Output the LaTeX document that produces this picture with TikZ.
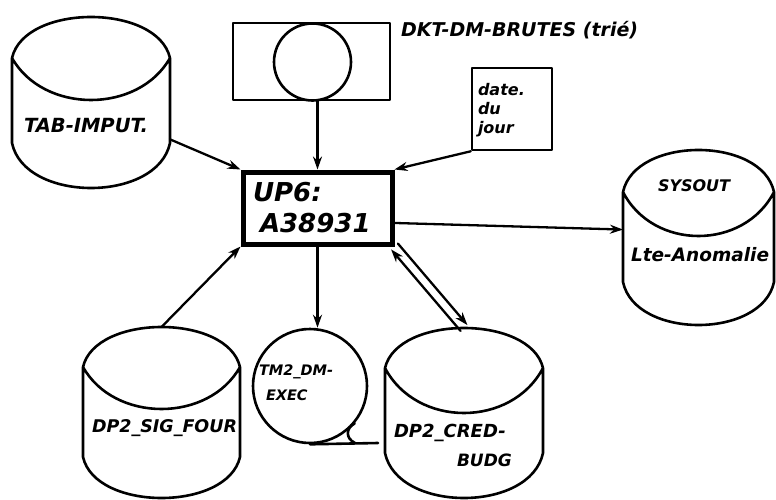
\documentclass[tikz,border=0pt]{standalone}
\usepackage{fontspec}
\newfontfamily\handfont{DejaVu Sans}
\usetikzlibrary{arrows.meta,calc}
\tikzset{
  ln/.style={line width=2.6pt, line cap=round, line join=round},
  arr/.style={line width=2.3pt, line cap=round, -{Stealth[length=13pt,width=9pt]}},
  area/.style={draw=none, inner sep=0pt, outer sep=0pt, rectangle},
  hw/.style={inner sep=0pt, outer sep=0pt, anchor=west, font=\handfont\bfseries\itshape\fontsize{#1}{#1}\selectfont},
  hw/.default=17,
}
% L R T C B S D : left, right, top, lens corners, lens bottom, side bottom, base bottom
\newcommand\cylpath[7]{%
  \draw[ln] (#1,#4) .. controls ({#1+0.08*(#2-#1)},{#4+(#3-#4)/0.75}) and ({#2-0.08*(#2-#1)},{#4+(#3-#4)/0.75}) .. (#2,#4)
     .. controls ({#2-0.2*(#2-#1)},{#4+(#5-#4)/0.75}) and ({#1+0.2*(#2-#1)},{#4+(#5-#4)/0.75}) .. (#1,#4)
     -- (#1,#6) .. controls ({#1+0.08*(#2-#1)},{#6+(#7-#6)/0.75}) and ({#2-0.08*(#2-#1)},{#6+(#7-#6)/0.75}) .. (#2,#6) -- (#2,#4);
}
\begin{document}
\begin{tikzpicture}[x=1pt,y=-1pt]
\useasboundingbox[fill=white] (0,0) rectangle (776,500);

% ---- cylinders (areas + outlines)
\node[area, minimum width=158pt, minimum height=171pt] (tab) at (91,102.5) {};
\cylpath{12}{170}{17}{58}{100}{143}{188}
\node[area, minimum width=157pt, minimum height=171pt] (sig) at (161.5,412.5) {};
\cylpath{83}{240}{327}{367}{409}{457}{498}
\node[area, minimum width=158pt, minimum height=170pt] (cred) at (464,413) {};
\cylpath{385}{543}{328}{368}{413}{453}{498}
\node[area, minimum width=151pt, minimum height=175pt] (sys) at (698.5,237.5) {};
\cylpath{623}{774}{150}{192}{236}{282}{325}

% ---- top input file
\node[draw, ln, rectangle, minimum width=157pt, minimum height=77pt, inner sep=0pt] (dkt) at (311.5,61.5) {};
\node[draw, ln, circle, minimum size=77pt, inner sep=0pt] (dktc) at (312.5,62) {};

% ---- date du jour
\node[draw, ln, rectangle, minimum width=80pt, minimum height=82pt, inner sep=0pt] (date) at (512,109) {};

% ---- program box
\node[draw, line width=5pt, rectangle, minimum width=149pt, minimum height=72pt, inner sep=0pt] (up) at (317.5,208) {};

% ---- tape
\node[draw, ln, circle, minimum size=114pt, inner sep=0pt] (tm) at (310,386) {};
\coordinate (tmtail) at (378,443);
\draw[ln] (tm.south) -- (tmtail);
\draw[ln] (tm.-40) .. controls (346,428) and (345,438) .. (355,443);

% ---- texts
\node[hw=19] (dktlbl) at (401,30) {DKT-DM-BRUTES (trié)};
\node[hw=19.5] (tabtxt) at (24,126) {TAB-IMPUT.};
\node[hw=26] (uptxt1) at (253,192) {UP6:};
\node[hw=26] (uptxt2) at (260,223) {A38931};
\node[hw=16, align=left] (datetxt) at (478,110) {date.\\[3pt]du\\[3pt]jour};
\node[hw=16] (systxt) at (658,186) {SYSOUT};
\node[hw=18.5] (anotxt) at (631,255) {Lte-Anomalie};
\node[hw=17.5] (sigtxt) at (92,428) {DP2\_SIG\_FOUR};
\node[hw=14.5] (tmtxt1) at (259,372) {TM2\_DM-};
\node[hw=14.5] (tmtxt2) at (266,395) {EXEC};
\node[hw=18] (credtxt1) at (394,433) {DP2\_CRED-};
\node[hw=17] (credtxt2) at (457,460) {BUDG};

% ---- connectors
\draw[arr] (tab.-25) -- (up.north west);
\draw[arr] (dkt.south -| up.north) -- (up.north);
\draw[arr] (date.south west) -- (up.north east);
\draw[arr] (up.-11) -- (sys.174);
\draw[arr] (sig.north) -- (up.south west);
\draw[arr] (up.south) -- (up.south |- tm.north);
\draw[arr] ($(up.south east)!4.5pt!90:(cred.north)$) -- ($(cred.north)!4.5pt!-90:(up.south east)$);
\draw[arr] ($(cred.north)!4.5pt!90:(up.south east)$) -- ($(up.south east)!4.5pt!-90:(cred.north)$);
\end{tikzpicture}
\end{document}
